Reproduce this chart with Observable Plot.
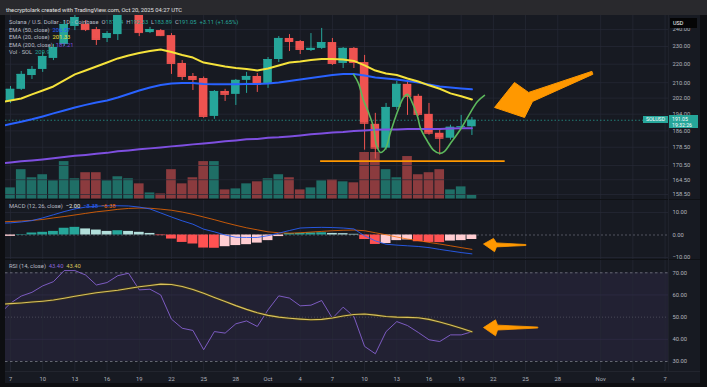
<!DOCTYPE html>
<html><head><meta charset="utf-8">
<script src="https://cdn.jsdelivr.net/npm/d3@7"></script>
<script src="https://cdn.jsdelivr.net/npm/@observablehq/plot@0.6"></script>
<style>
html,body{margin:0;padding:0;background:#0d0e11;}
#wrap{position:relative;width:707px;height:387px;overflow:hidden;background:#0d0e11;font-family:Roboto,"Noto Sans",sans-serif;}
#header{position:absolute;left:0;top:0;width:707px;height:15px;background:#29292d;}
#header span{position:absolute;left:6px;top:6.5px;font-size:5.8px;line-height:7px;color:#e2e2e2;white-space:nowrap}
#area{position:absolute;left:5px;top:15px;width:695px;height:368px;background:#171a22;}
.sep{position:absolute;background:#0f1115;}
.lg{position:absolute;left:9px;font-size:5.8px;color:#b9bcc5;white-space:nowrap;line-height:7px}
svg{position:absolute;left:0;}
.tag{position:absolute;color:#fff;font-size:5.2px;white-space:nowrap;box-sizing:border-box;line-height:6.5px}
</style></head><body><div id="wrap">
<div id="header"><span>thecryptolark created with TradingView.com, Oct 20, 2025 04:27 UTC</span></div>
<div id="area"></div>
</div>
<script>
// ---------- DATA ----------
const xTickLabels = ["2025-09-07","2025-09-10","2025-09-13","2025-09-16","2025-09-19","2025-09-22","2025-09-25","2025-09-28","2025-10-01","2025-10-04","2025-10-07","2025-10-10","2025-10-13","2025-10-16","2025-10-19","2025-10-22","2025-10-25","2025-10-28","2025-11-01","2025-11-04","2025-11-07"];
const priceTicks = [158.5,164.5,170.5,178.5,186,194,202,210,220,230,240];
const macdTicks = [-10,0,10];
const rsiTicks = [30,40,50,60,70];

// daily candles Sep 7 .. Oct 20, 2025
const open  = [200.3,206.5,213.8,217.1,223.2,231.2,241.9,243.1,240.0,234.7,237.0,251.8,253.0,238.2,239.4,236.4,220.4,213.3,212.2,192.9,205.4,203.9,211.2,213.3,209.1,222.6,234.7,232.9,227.7,228.9,232.3,220.4,228.9,220.9,189.1,178.1,197.3,209.1,202.9,193.9,184.9,182.6,187.7,187.94];
const high  = [208.0,216.0,218.7,226.6,231.2,245.5,250.5,245.5,241.3,238.8,255.6,260.0,255.6,241.3,240.0,237.6,222.0,214.9,213.0,205.9,206.5,211.7,215.5,214.9,223.7,235.8,237.0,233.5,237.6,240.7,234.7,229.4,229.4,224.9,194.4,199.3,210.6,210.6,203.9,199.3,186.8,188.7,193.4,192.33];
const low   = [199.3,205.9,211.7,215.5,222.0,230.0,239.4,238.8,230.6,232.3,233.5,250.5,235.8,237.6,235.8,214.4,211.2,205.9,192.0,191.5,200.3,198.3,204.4,204.9,207.0,220.9,227.1,225.4,227.1,228.3,219.3,217.6,217.6,177.2,173.3,177.2,195.9,193.4,192.9,184.0,175.0,181.7,186.8,183.89];
const close = [206.5,214.4,217.1,224.3,229.4,243.1,247.4,240.0,234.1,237.6,251.8,256.5,238.2,240.0,236.4,220.4,213.3,211.7,192.9,205.4,203.9,211.2,213.3,209.1,222.6,234.7,232.9,228.3,228.9,232.3,220.4,228.9,220.9,189.6,178.1,197.3,209.1,202.9,193.9,184.9,182.6,187.7,187.94,191.05];
const volume = [660,1740,1260,1440,1080,2220,1200,1560,1560,1080,1320,1200,900,360,300,1740,900,1260,2220,2220,540,600,900,1020,1200,1440,1260,540,660,1080,1140,1020,960,2760,2760,1740,1260,2520,1440,1560,1740,540,720,210];
const hist = [-0.6,0.2,0.9,1.2,1.6,3.0,3.4,2.7,2.2,1.6,1.9,1.6,1.2,0.7,-0.3,-1.8,-3.3,-4.0,-5.8,-5.9,-5.2,-4.7,-4.3,-3.6,-2.5,-0.7,0.6,0.7,0.9,1.0,0.7,0.6,0.3,-2.0,-4.2,-3.8,-2.5,-2.2,-3.0,-3.3,-3.4,-2.7,-2.5,-2.0];

// indicator lines Sep 6 .. Oct 20, 2025
const ema20  = [199.8,200.8,201.8,203.9,205.9,208.0,211.2,214.4,216.5,218.7,220.9,223.2,224.9,226.3,227.4,228.3,226.8,225.1,223.7,220.9,219.8,218.7,217.9,217.4,216.5,217.6,219.3,220.9,221.5,222.3,222.9,222.9,222.6,221.8,219.3,216.5,214.9,214.1,212.2,210.6,208.6,206.8,204.4,202.9,201.3];
const ema50  = [188.1,189.3,190.3,191.5,192.9,194.4,195.8,197.3,198.6,199.8,200.8,202.3,204.1,205.9,207.5,208.8,209.6,209.8,209.8,209.3,209.1,209.1,209.1,209.3,209.3,209.6,210.1,210.9,211.7,212.5,213.3,214.1,214.6,214.6,213.8,212.8,212.2,211.7,210.9,210.1,209.1,208.0,207.5,207.0,206.5];
const ema200 = [171.4,171.8,172.3,172.7,173.1,173.6,174.2,174.7,175.1,175.6,176.0,176.7,177.1,177.6,178.0,178.4,178.9,179.3,179.8,180.2,180.7,181.2,181.6,182.1,182.3,182.8,183.0,183.4,183.9,184.4,184.8,185.3,185.5,186.0,186.2,186.5,186.7,186.7,186.9,186.9,186.9,186.9,187.1,187.2,187.2];
const macdLine   = [5.2,5.4,5.8,6.4,7.6,9.0,10.4,11.6,12.4,12.8,13.0,13.0,12.9,12.4,11.6,9.8,8.0,6.3,4.8,2.6,1.4,0.0,-1.0,-1.1,-1.1,-0.3,0.8,2.0,3.1,3.3,3.4,3.3,3.1,2.7,-0.4,-2.6,-4.1,-4.5,-4.8,-5.1,-5.6,-6.4,-7.1,-7.8,-8.38];
const signalLine = [5.8,6.0,6.2,6.5,6.9,7.6,8.2,8.9,9.6,10.3,10.8,11.4,11.8,12.0,11.9,11.5,11.0,10.2,9.2,8.0,6.8,5.5,4.3,3.2,2.3,1.4,1.0,0.8,1.0,1.3,1.6,1.9,2.1,2.2,1.9,1.0,0.1,-0.9,-1.8,-2.5,-3.3,-4.0,-4.8,-5.6,-6.38];
const rsi   = [51.5,56.3,59.5,61.2,64.1,66.0,71.0,71.0,69.0,64.5,65.6,68.7,69.8,62.3,62.6,60.0,49.1,45.0,44.0,35.3,43.5,42.8,47.0,48.3,45.8,53.3,59.6,58.6,55.1,55.4,57.5,49.5,54.5,50.3,36.8,33.5,43.5,48.0,46.2,43.1,39.8,39.0,42.0,42.0,43.4];
const rsiMa = [55.8,56.1,56.4,56.8,57.2,57.7,58.5,59.4,60.2,61.0,61.6,62.1,62.9,63.7,64.3,64.9,64.7,63.8,62.5,60.8,58.9,57.1,55.2,53.5,52.0,50.8,50.0,49.5,49.1,48.8,49.0,49.6,50.5,51.2,51.4,50.9,50.3,50.0,49.9,49.7,49.0,47.8,46.5,45.0,43.4];

// hand-drawn annotations (days after Sep 7, value)
const greenDay   = [31.97,32.43,32.90,33.36,33.83,34.11,34.48,34.95,35.41,36.07,36.63,37.00,37.47,37.93,38.21,38.86,39.42,39.98,40.45,41.01,41.94,42.87,43.52,44.17];
const greenPrice = [214.4,209.6,200.8,194.9,187.7,179.4,176.2,178.0,185.3,195.3,202.3,203.9,199.3,192.9,187.2,181.2,177.2,175.8,176.7,180.3,186.8,194.9,200.3,203.4];
const supportDay = [28.9,46.1];
const supportPrice = 172.4;
const arrowDay   = [54.15,48.28,46.97,45.11,47.90,48.65,54.24];
const arrowPrice = [216.0,204.9,210.1,197.3,192.4,200.3,214.4];
const macdArrowDay = [48.0,45.29,45.01,44.08,45.11,45.29,48.0];
const macdArrowVal = [-4.22,-3.51,-1.51,-4.0,-7.42,-5.29,-4.67];
const rsiArrowDay = [49.11,45.39,45.20,44.08,45.20,45.39,49.11];
const rsiArrowVal = [45.54,46.40,48.78,45.32,41.58,44.19,45.09];

// ---------- BUILD ----------
const DAY = 864e5;
const firstDay = Date.UTC(2025, 8, 6);
const seriesDates = d3.range(ema20.length).map(i => new Date(firstDay + i * DAY));
const candleDates = seriesDates.slice(1);
const dayAfter = d => new Date(Date.UTC(2025, 8, 7) + d * DAY);
const xTicks = xTickLabels.map(s => new Date(s + "T00:00:00Z"));
const xDomain = [new Date("2025-09-06T12:49:00Z"), new Date("2025-11-07T07:41:00Z")];

const UP = "#26a69a", DOWN = "#ef5350";
const candles = candleDates.map((date, i) => ({date, o: open[i], h: high[i], l: low[i], c: close[i], v: volume[i], m: hist[i], mPrev: i ? hist[i-1] : hist[i]}));
const series = seriesDates.map((date, i) => ({date, e20: ema20[i], e50: ema50[i], e200: ema200[i], macd: macdLine[i], sig: signalLine[i], rsi: rsi[i], rsiMa: rsiMa[i]}));
const green = greenDay.map((d, i) => ({date: dayAfter(d), p: greenPrice[i]}));
const arrow = arrowDay.map((d, i) => ({date: dayAfter(d), p: arrowPrice[i]}));
const macdArrow = macdArrowDay.map((d, i) => ({date: dayAfter(d), v: macdArrowVal[i]}));
const rsiArrow = rsiArrowDay.map((d, i) => ({date: dayAfter(d), v: rsiArrowVal[i]}));
const candleColor = d => d.c >= d.o ? UP : DOWN;
const lo = (d, f) => new Date(+d.date - f * DAY), hi = (d, f) => new Date(+d.date + f * DAY);
const histColor = d => d.m >= 0 ? (d.m >= d.mPrev ? "#26a69a" : "#b2dfdb") : (d.m < d.mPrev ? "#ff5252" : "#ffcdd2");

const common = {
  width: 707, marginLeft: 5, marginRight: 39, marginTop: 0,
  style: {background: "transparent", fontFamily: "Roboto, sans-serif", fontSize: "5.8px", color: "#b2b5be"},
  color: {type: "identity"}
};
const xs = extra => ({type: "utc", domain: xDomain, range: [5, 668], ...extra});
const gridV = () => Plot.gridX(xTicks, {stroke: "#262a36", strokeOpacity: 0.7});
const rightAxis = (ticks, fmt) => Plot.axisY(ticks, {anchor: "right", tickSize: 0, tickPadding: 4, tickFormat: fmt, label: null, color: "#b2b5be"});
const fmt2 = d => (d < 0 ? "\u2212" : "") + Math.abs(d).toFixed(2);

// volume pane (under price)
const volPlot = Plot.plot({
  ...common, height: 185, marginBottom: 0,
  x: xs({axis: null}),
  y: {domain: [0, d3.max(volume)], range: [183.5, 137], axis: null},
  marks: [
    gridV(),
    Plot.rect(candles, {x1: d => lo(d, 0.45), x2: d => hi(d, 0.45), y1: () => 0, y2: "v",
      fill: d => d.c >= d.o ? "#1f6e66" : "#8b3b3e"})
  ]
});

// price pane
const pricePlot = Plot.plot({
  ...common, height: 185, marginBottom: 0,
  x: xs({axis: null}),
  y: {type: "log", domain: [158.5, 230], range: [179, 31]},
  marks: [
    Plot.gridY(priceTicks, {stroke: "#262a36", strokeOpacity: 0.7}),
    Plot.ruleY([close[close.length-1]], {stroke: UP, strokeOpacity: 0.7, strokeDasharray: "1.5,2", clip: true}),
    Plot.ruleX(candles, {x: "date", y1: "l", y2: "h", stroke: candleColor, strokeWidth: 1, clip: true}),
    Plot.rect(candles, {x1: d => lo(d, 0.4), x2: d => hi(d, 0.4), y1: "o", y2: "c", fill: candleColor, clip: true}),
    Plot.ruleY(candles, {y: "c", x1: d => lo(d, 0.4), x2: d => hi(d, 0.4), stroke: candleColor, clip: true}),
    Plot.line(series, {x: "date", y: "e200", stroke: "#7e4fe0", strokeWidth: 2, clip: true}),
    Plot.line(series, {x: "date", y: "e50", stroke: "#2962ff", strokeWidth: 2, clip: true}),
    Plot.line(series, {x: "date", y: "e20", stroke: "#f5e23b", strokeWidth: 2, clip: true}),
    Plot.ruleY([supportPrice], {x1: () => dayAfter(supportDay[0]), x2: () => dayAfter(supportDay[1]), stroke: "#ff9800", strokeWidth: 1.8}),
    Plot.line(green, {x: "date", y: "p", stroke: "#5cb85c", strokeWidth: 1.6, curve: "catmull-rom", clip: true}),
    Plot.line(arrow, {x: "date", y: "p", fill: "#ff9800", stroke: "#ff9800", strokeWidth: 1, curve: "linear-closed"}),
    rightAxis(priceTicks, d => d.toFixed(2))
  ]
});

// MACD pane
const macdPlot = Plot.plot({
  ...common, height: 60, marginBottom: 0,
  x: xs({axis: null}),
  y: {domain: [-10, 10], range: [57, 12]},
  marks: [
    gridV(),
    Plot.gridY([-10, 10], {stroke: "#262a36", strokeOpacity: 0.7}),
    Plot.ruleY([0], {stroke: "#6a6d78", strokeOpacity: 0.7, strokeDasharray: "2,2"}),
    Plot.rect(candles, {x1: d => lo(d, 0.46), x2: d => hi(d, 0.46), y1: () => 0, y2: "m", fill: histColor}),
    Plot.line(series, {x: "date", y: "sig", stroke: "#ff6d00", strokeOpacity: 0.75, strokeWidth: 1, clip: true}),
    Plot.line(series, {x: "date", y: "macd", stroke: "#2962ff", strokeOpacity: 0.85, strokeWidth: 1, clip: true}),
    Plot.line(macdArrow, {x: "date", y: "v", fill: "#ff9800", stroke: "#ff9800", strokeWidth: 0.8, curve: "linear-closed"}),
    rightAxis(macdTicks, fmt2)
  ]
});

// RSI pane + time axis
const rsiPlot = Plot.plot({
  ...common, height: 127, marginBottom: 16,
  x: xs({}),
  y: {domain: [30, 70], range: [101, 12.3]},
  marks: [
    Plot.rect([0], {x1: () => xDomain[0], x2: () => xDomain[1], y1: () => 30, y2: () => 70, fill: "#7e57c2", fillOpacity: 0.11}),
    gridV(),
    Plot.gridY([40, 60], {stroke: "#2e2a45", strokeOpacity: 0.8}),
    Plot.ruleY([30, 70], {stroke: "#787b86", strokeOpacity: 0.8, strokeDasharray: "2.5,2.5"}),
    Plot.ruleY([50], {stroke: "#787b86", strokeOpacity: 0.45, strokeDasharray: "1,2"}),
    Plot.line(series, {x: "date", y: "rsi", stroke: "#8661d0", strokeWidth: 0.9, clip: true}),
    Plot.line(series, {x: "date", y: "rsiMa", stroke: "#40371c", strokeWidth: 2.6, clip: true}),
    Plot.line(series, {x: "date", y: "rsiMa", stroke: "#d8c25c", strokeWidth: 1.1, clip: true}),
    Plot.line(rsiArrow, {x: "date", y: "v", fill: "#ff9800", stroke: "#ff9800", strokeWidth: 0.8, curve: "linear-closed"}),
    rightAxis(rsiTicks, d => d.toFixed(2)),
    Plot.axisX(xTicks, {anchor: "bottom", tickSize: 0, tickPadding: 5, label: null, color: "#b2b5be",
      tickFormat: d => d.getUTCDate() === 1 ? d3.utcFormat("%b")(d) : String(d.getUTCDate())})
  ]
});

const wrap = document.getElementById("wrap");
function place(el, top) { el.style.position = "absolute"; el.style.left = "0px"; el.style.top = top + "px"; wrap.appendChild(el); }
place(volPlot, 15);
place(pricePlot, 15);
place(macdPlot, 200);
place(rsiPlot, 260);

function div(cls, css, html) { const e = document.createElement("div"); if (cls) e.className = cls; Object.assign(e.style, css); e.innerHTML = html || ""; wrap.appendChild(e); return e; }
// separators
div("sep", {left: "5px", top: "199px", width: "695px", height: "1.2px"});
div("sep", {left: "5px", top: "259px", width: "695px", height: "1.2px"});
div("sep", {left: "5px", top: "371px", width: "695px", height: "1px", background: "#22252e"});
div("sep", {left: "668px", top: "15px", width: "1px", height: "356px", background: "#1f222b"});

// legends
const last = candles[candles.length - 1], prevClose = candles[candles.length - 2].c;
const chg = last.c - prevClose;
const t = c => `<span style="color:${c}">`;
div("lg", {top: "19.2px"}, `Solana / U.S. Dollar · 1D · Coinbase &nbsp;O${t(UP)}${last.o.toFixed(2)}</span> &nbsp;H${t(UP)}${last.h.toFixed(2)}</span> &nbsp;L${t(UP)}${last.l.toFixed(2)}</span> &nbsp;C${t(UP)}${last.c.toFixed(2)} &nbsp;+${chg.toFixed(2)} (+${(chg / prevClose * 100).toFixed(2)}%)</span>`);
div("lg", {top: "26.5px"}, `EMA (50, close) &nbsp;${t("#2962ff")}${(ema50[ema50.length-1] + 0.07).toFixed(2)}</span>`);
div("lg", {top: "34px"}, `EMA (20, close) &nbsp;${t("#f5e23b")}${(ema20[ema20.length-1] + 0.03).toFixed(2)}</span>`);
div("lg", {top: "41.5px"}, `EMA (200, close) &nbsp;${t("#7e4fe0")}${(ema200[ema200.length-1] + 0.01).toFixed(2)}</span>`);
div("lg", {top: "48.8px"}, `Vol · SOL &nbsp;${t(UP)}209.91K</span>`);
div("lg", {top: "203.2px"}, `MACD (12, 26, close) &nbsp;${t("#e8e8e8")}${fmt2(hist[hist.length-1])}</span> &nbsp;${t("#2962ff")}${fmt2(macdLine[macdLine.length-1])}</span> &nbsp;${t("#ff6d00")}${fmt2(signalLine[signalLine.length-1])}</span>`);
div("lg", {top: "262.5px"}, `RSI (14, close) &nbsp;${t("#8a66d8")}${rsi[rsi.length-1].toFixed(2)}</span> &nbsp;${t("#d8c25c")}${rsiMa[rsiMa.length-1].toFixed(2)}</span>`);

// price scale chrome
div("tag", {left: "670px", top: "18px", width: "27px", height: "10px", background: "#050506", paddingLeft: "3px", lineHeight: "10px", fontSize: "5.4px"}, "USD");
const yc = 15 + pricePlot.scale("y").apply(last.c);
div("tag", {left: "643px", top: (yc - 3.5) + "px", width: "25px", height: "7px", background: UP, textAlign: "center", lineHeight: "7px"}, "SOLUSD");
div("tag", {left: "669px", top: (yc - 4.5) + "px", width: "29px", height: "13px", background: UP, paddingLeft: "3px", paddingTop: "0.5px"}, `${last.c.toFixed(2)}<br>19:32:26`);
</script>
</body></html>
